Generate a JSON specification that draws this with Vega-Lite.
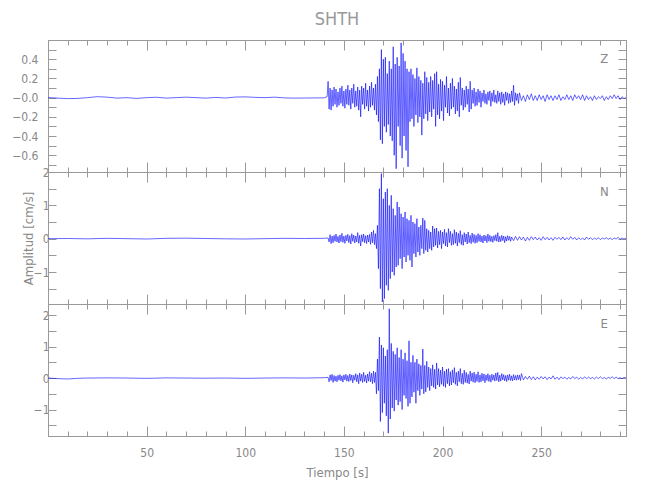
{
  "$schema": "https://vega.github.io/schema/vega-lite/v6.json",
  "padding": {"left": 11, "top": 11, "right": 24, "bottom": 5},
  "title": {"text": "SHTH", "color": "#999999", "fontSize": 18, "fontWeight": "normal", "font": "Liberation Sans Narrow, DejaVu Sans Condensed, Roboto, sans-serif", "offset": 10, "anchor": "middle", "frame": "group"},
  "spacing": 0,
  "bounds": "flush",
  "config": {
    "view": {"stroke": "#999999", "strokeWidth": 1},
    "axis": {"grid": false, "domainColor": "#999999", "tickColor": "#999999", "labelColor": "#888888", "titleColor": "#888888", "labelFont": "Liberation Sans Narrow, DejaVu Sans Condensed, Roboto, sans-serif", "titleFont": "Liberation Sans Narrow, DejaVu Sans Condensed, Roboto, sans-serif", "labelFontSize": 12, "titleFontSize": 13, "titleFontWeight": "normal", "labelOverlap": false, "labelFlush": false}
  },
  "datasets": {
    "Z": [
      {"t":0,"v":0},{"t":5,"v":-0.005},{"t":10,"v":-0.01},{"t":15,"v":-0.008},{"t":20,"v":0},{"t":25,"v":0.01},{"t":30,"v":0.005},{"t":35,"v":-0.005},{"t":40,"v":0},{"t":45,"v":-0.008},{"t":50,"v":0},{"t":55,"v":0.004},{"t":60,"v":-0.005},{"t":65,"v":0},{"t":70,"v":0.005},{"t":75,"v":0},{"t":80,"v":-0.005},{"t":85,"v":0.002},{"t":90,"v":-0.004},{"t":95,"v":0.006},{"t":100,"v":0.008},{"t":105,"v":0.003},{"t":110,"v":0},{"t":115,"v":0.005},{"t":120,"v":-0.003},{"t":125,"v":-0.005},{"t":130,"v":-0.004},{"t":135,"v":-0.003},{"t":140,"v":-0.002},{"t":141.5,"v":0.01},
      {"t":142,"v":0.17},{"t":142.5,"v":-0.12},{"t":143,"v":0.1},{"t":143.5,"v":-0.13},{"t":144,"v":0.08},{"t":144.5,"v":-0.09},{"t":145,"v":0.11},{"t":145.5,"v":-0.07},{"t":146,"v":0.09},{"t":146.5,"v":-0.1},{"t":147,"v":0.06},{"t":147.5,"v":-0.08},{"t":148,"v":0.1},{"t":148.5,"v":-0.06},{"t":149,"v":0.12},{"t":149.5,"v":-0.09},{"t":150,"v":0.07},{"t":150.5,"v":-0.11},{"t":151,"v":0.09},{"t":151.5,"v":-0.07},{"t":152,"v":0.13},{"t":152.5,"v":-0.08},{"t":153,"v":0.08},{"t":153.5,"v":-0.12},{"t":154,"v":0.1},{"t":154.5,"v":-0.06},{"t":155,"v":0.14},{"t":155.5,"v":-0.1},{"t":156,"v":0.07},{"t":156.5,"v":-0.09},{"t":157,"v":0.11},{"t":157.5,"v":-0.13},{"t":158,"v":0.08},{"t":158.5,"v":-0.2},{"t":159,"v":0.12},{"t":159.5,"v":-0.07},{"t":160,"v":0.1},{"t":160.5,"v":-0.12},{"t":161,"v":0.15},{"t":161.5,"v":-0.09},{"t":162,"v":0.08},{"t":162.5,"v":-0.14},{"t":163,"v":0.12},{"t":163.5,"v":-0.1},{"t":164,"v":0.16},{"t":164.5,"v":-0.08},{"t":165,"v":0.1},{"t":165.5,"v":-0.13},{"t":166,"v":0.14},{"t":166.5,"v":-0.18},{"t":167,"v":0.22},{"t":167.5,"v":-0.25},{"t":168,"v":0.3},{"t":168.5,"v":-0.44},{"t":169,"v":0.5},{"t":169.5,"v":-0.48},{"t":170,"v":0.4},{"t":170.5,"v":-0.3},{"t":171,"v":0.42},{"t":171.5,"v":-0.36},{"t":172,"v":0.25},{"t":172.5,"v":-0.28},{"t":173,"v":0.38},{"t":173.5,"v":-0.4},{"t":174,"v":0.3},{"t":174.5,"v":-0.45},{"t":175,"v":0.53},{"t":175.5,"v":-0.6},{"t":176,"v":0.35},{"t":176.5,"v":-0.74},{"t":177,"v":0.42},{"t":177.5,"v":-0.3},{"t":178,"v":0.33},{"t":178.5,"v":-0.5},{"t":179,"v":0.57},{"t":179.5,"v":-0.63},{"t":180,"v":0.46},{"t":180.5,"v":-0.4},{"t":181,"v":0.38},{"t":181.5,"v":-0.55},{"t":182,"v":0.3},{"t":182.5,"v":-0.72},{"t":183,"v":0.27},{"t":183.5,"v":-0.25},{"t":184,"v":0.3},{"t":184.5,"v":-0.22},{"t":185,"v":0.24},{"t":185.5,"v":-0.3},{"t":186,"v":0.2},{"t":186.5,"v":-0.18},{"t":187,"v":0.31},{"t":187.5,"v":-0.26},{"t":188,"v":0.22},{"t":188.5,"v":-0.2},{"t":189,"v":0.18},{"t":189.5,"v":-0.39},{"t":190,"v":0.15},{"t":190.5,"v":-0.22},{"t":191,"v":0.27},{"t":191.5,"v":-0.17},{"t":192,"v":0.21},{"t":192.5,"v":-0.24},{"t":193,"v":0.16},{"t":193.5,"v":-0.15},{"t":194,"v":0.22},{"t":194.5,"v":-0.2},{"t":195,"v":0.18},{"t":195.5,"v":-0.12},{"t":196,"v":0.25},{"t":196.5,"v":-0.3},{"t":197,"v":0.27},{"t":197.5,"v":-0.18},{"t":198,"v":0.14},{"t":198.5,"v":-0.22},{"t":199,"v":0.19},{"t":199.5,"v":-0.14},{"t":200,"v":0.17},{"t":200.5,"v":-0.24},{"t":201,"v":0.13},{"t":201.5,"v":-0.1},{"t":202,"v":0.22},{"t":202.5,"v":-0.16},{"t":203,"v":0.1},{"t":203.5,"v":-0.19},{"t":204,"v":0.15},{"t":204.5,"v":-0.12},{"t":205,"v":0.2},{"t":205.5,"v":-0.1},{"t":206,"v":0.12},{"t":206.5,"v":-0.17},{"t":207,"v":0.09},{"t":207.5,"v":-0.14},{"t":208,"v":0.16},{"t":208.5,"v":-0.2},{"t":209,"v":0.21},{"t":209.5,"v":-0.08},{"t":210,"v":0.1},{"t":210.5,"v":-0.13},{"t":211,"v":0.08},{"t":211.5,"v":-0.1},{"t":212,"v":0.12},{"t":212.5,"v":-0.07},{"t":213,"v":0.09},{"t":213.5,"v":-0.15},{"t":214,"v":0.17},{"t":214.5,"v":-0.12},{"t":215,"v":0.08},{"t":215.5,"v":-0.06},{"t":216,"v":0.1},{"t":216.5,"v":-0.09},{"t":217,"v":0.06},{"t":217.5,"v":-0.08},{"t":218,"v":0.09},{"t":218.5,"v":-0.05},{"t":219,"v":0.07},{"t":219.5,"v":-0.1},{"t":220,"v":0.05},{"t":220.5,"v":-0.04},{"t":221,"v":0.08},{"t":221.5,"v":-0.06},{"t":222,"v":0.04},{"t":222.5,"v":-0.07},{"t":223,"v":0.06},{"t":223.5,"v":-0.03},{"t":224,"v":0.07},{"t":224.5,"v":-0.09},{"t":225,"v":0.05},{"t":225.5,"v":-0.04},{"t":226,"v":0.08},{"t":226.5,"v":-0.05},{"t":227,"v":0.03},{"t":227.5,"v":-0.06},{"t":228,"v":0.07},{"t":228.5,"v":-0.04},{"t":229,"v":0.05},{"t":229.5,"v":-0.07},{"t":230,"v":0.06},{"t":230.5,"v":-0.05},{"t":231,"v":0.04},{"t":231.5,"v":-0.08},{"t":232,"v":0.06},{"t":232.5,"v":-0.03},{"t":233,"v":0.05},{"t":233.5,"v":-0.06},{"t":234,"v":0.04},{"t":234.5,"v":-0.05},{"t":235,"v":0.07},{"t":235.5,"v":-0.04},{"t":236,"v":0.13},{"t":236.5,"v":-0.08},{"t":237,"v":0.05},{"t":237.5,"v":-0.03},{"t":238,"v":0.04},{"t":238.5,"v":-0.06},{"t":239,"v":0.05},
      {"t":240,"v":-0.03},{"t":241,"v":0.02},{"t":242,"v":-0.04},{"t":243,"v":0.03},{"t":244,"v":-0.02},{"t":245,"v":0.04},{"t":246,"v":-0.03},{"t":247,"v":0.02},{"t":248,"v":-0.03},{"t":249,"v":0.03},{"t":250,"v":-0.02},{"t":251,"v":0.02},{"t":252,"v":-0.04},{"t":253,"v":0.03},{"t":254,"v":-0.02},{"t":255,"v":0.02},{"t":256,"v":-0.03},{"t":257,"v":0.02},{"t":258,"v":-0.02},{"t":259,"v":0.03},{"t":260,"v":-0.03},{"t":261,"v":0.01},{"t":262,"v":-0.02},{"t":263,"v":0.03},{"t":264,"v":-0.02},{"t":265,"v":0.02},{"t":266,"v":-0.03},{"t":267,"v":0.03},{"t":268,"v":-0.01},{"t":269,"v":0.02},{"t":270,"v":-0.02},{"t":271,"v":0.03},{"t":272,"v":-0.03},{"t":273,"v":0.02},{"t":274,"v":-0.02},{"t":275,"v":0.01},{"t":276,"v":-0.03},{"t":277,"v":0.02},{"t":278,"v":-0.02},{"t":279,"v":0.01},{"t":280,"v":-0.01},{"t":281,"v":0.02},{"t":282,"v":-0.03},{"t":283,"v":0.01},{"t":284,"v":-0.02},{"t":285,"v":0.02},{"t":286,"v":-0.01},{"t":287,"v":0.03},{"t":288,"v":-0.01},{"t":289,"v":0.02},{"t":290,"v":-0.02},{"t":291,"v":0.01},{"t":292,"v":-0.01},{"t":293,"v":0}
    ],
    "N": [
      {"t":0,"v":0},{"t":10,"v":0.005},{"t":20,"v":-0.005},{"t":30,"v":0.01},{"t":40,"v":0},{"t":50,"v":-0.01},{"t":60,"v":0.01},{"t":70,"v":0.015},{"t":80,"v":0.005},{"t":90,"v":-0.005},{"t":100,"v":-0.01},{"t":110,"v":0},{"t":120,"v":0.01},{"t":130,"v":0.005},{"t":140,"v":0.01},{"t":142,"v":0.02},
      {"t":142.5,"v":-0.1},{"t":143,"v":0.12},{"t":143.5,"v":-0.15},{"t":144,"v":0.08},{"t":144.5,"v":-0.12},{"t":145,"v":0.1},{"t":145.5,"v":-0.08},{"t":146,"v":0.14},{"t":146.5,"v":-0.1},{"t":147,"v":0.07},{"t":147.5,"v":-0.13},{"t":148,"v":0.11},{"t":148.5,"v":-0.09},{"t":149,"v":0.16},{"t":149.5,"v":-0.11},{"t":150,"v":0.08},{"t":150.5,"v":-0.14},{"t":151,"v":0.1},{"t":151.5,"v":-0.07},{"t":152,"v":0.13},{"t":152.5,"v":-0.12},{"t":153,"v":0.09},{"t":153.5,"v":-0.16},{"t":154,"v":0.15},{"t":154.5,"v":-0.08},{"t":155,"v":0.11},{"t":155.5,"v":-0.13},{"t":156,"v":0.08},{"t":156.5,"v":-0.1},{"t":157,"v":0.18},{"t":157.5,"v":-0.14},{"t":158,"v":0.1},{"t":158.5,"v":-0.22},{"t":159,"v":0.12},{"t":159.5,"v":-0.09},{"t":160,"v":0.14},{"t":160.5,"v":-0.12},{"t":161,"v":0.09},{"t":161.5,"v":-0.15},{"t":162,"v":0.11},{"t":162.5,"v":-0.1},{"t":163,"v":0.13},{"t":163.5,"v":-0.17},{"t":164,"v":0.2},{"t":164.5,"v":-0.12},{"t":165,"v":0.25},{"t":165.5,"v":-0.18},{"t":166,"v":0.15},{"t":166.5,"v":-0.3},{"t":167,"v":0.4},{"t":167.5,"v":-0.9},{"t":168,"v":1.5},{"t":168.5,"v":-1.5},{"t":169,"v":1.95},{"t":169.5,"v":-1.9},{"t":170,"v":1.2},{"t":170.5,"v":-1.8},{"t":171,"v":1.4},{"t":171.5,"v":-1.4},{"t":172,"v":1.5},{"t":172.5,"v":-1.55},{"t":173,"v":1},{"t":173.5,"v":-1.2},{"t":174,"v":1.3},{"t":174.5,"v":-1},{"t":175,"v":0.9},{"t":175.5,"v":-1.1},{"t":176,"v":0.7},{"t":176.5,"v":-0.85},{"t":177,"v":1.1},{"t":177.5,"v":-0.8},{"t":178,"v":0.95},{"t":178.5,"v":-0.6},{"t":179,"v":0.75},{"t":179.5,"v":-0.9},{"t":180,"v":0.65},{"t":180.5,"v":-0.55},{"t":181,"v":0.8},{"t":181.5,"v":-0.7},{"t":182,"v":0.6},{"t":182.5,"v":-0.5},{"t":183,"v":0.55},{"t":183.5,"v":-0.65},{"t":184,"v":0.7},{"t":184.5,"v":-0.85},{"t":185,"v":0.5},{"t":185.5,"v":-0.45},{"t":186,"v":0.45},{"t":186.5,"v":-0.55},{"t":187,"v":0.6},{"t":187.5,"v":-0.4},{"t":188,"v":0.35},{"t":188.5,"v":-0.5},{"t":189,"v":0.4},{"t":189.5,"v":-0.3},{"t":190,"v":0.62},{"t":190.5,"v":-0.45},{"t":191,"v":0.55},{"t":191.5,"v":-0.35},{"t":192,"v":0.3},{"t":192.5,"v":-0.4},{"t":193,"v":0.25},{"t":193.5,"v":-0.3},{"t":194,"v":0.2},{"t":194.5,"v":-0.35},{"t":195,"v":0.38},{"t":195.5,"v":-0.25},{"t":196,"v":0.3},{"t":196.5,"v":-0.2},{"t":197,"v":0.32},{"t":197.5,"v":-0.28},{"t":198,"v":0.22},{"t":198.5,"v":-0.18},{"t":199,"v":0.25},{"t":199.5,"v":-0.3},{"t":200,"v":0.2},{"t":200.5,"v":-0.15},{"t":201,"v":0.28},{"t":201.5,"v":-0.22},{"t":202,"v":0.18},{"t":202.5,"v":-0.25},{"t":203,"v":0.3},{"t":203.5,"v":-0.12},{"t":204,"v":0.22},{"t":204.5,"v":-0.2},{"t":205,"v":0.15},{"t":205.5,"v":-0.18},{"t":206,"v":0.27},{"t":206.5,"v":-0.14},{"t":207,"v":0.2},{"t":207.5,"v":-0.22},{"t":208,"v":0.16},{"t":208.5,"v":-0.12},{"t":209,"v":0.24},{"t":209.5,"v":-0.18},{"t":210,"v":0.12},{"t":210.5,"v":-0.2},{"t":211,"v":0.18},{"t":211.5,"v":-0.1},{"t":212,"v":0.14},{"t":212.5,"v":-0.16},{"t":213,"v":0.2},{"t":213.5,"v":-0.12},{"t":214,"v":0.1},{"t":214.5,"v":-0.15},{"t":215,"v":0.17},{"t":215.5,"v":-0.11},{"t":216,"v":0.13},{"t":216.5,"v":-0.14},{"t":217,"v":0.1},{"t":217.5,"v":-0.12},{"t":218,"v":0.15},{"t":218.5,"v":-0.08},{"t":219,"v":0.12},{"t":219.5,"v":-0.1},{"t":220,"v":0.08},{"t":220.5,"v":-0.13},{"t":221,"v":0.11},{"t":221.5,"v":-0.07},{"t":222,"v":0.09},{"t":222.5,"v":-0.12},{"t":223,"v":0.14},{"t":223.5,"v":-0.08},{"t":224,"v":0.1},{"t":224.5,"v":-0.09},{"t":225,"v":0.07},{"t":225.5,"v":-0.11},{"t":226,"v":0.09},{"t":226.5,"v":-0.06},{"t":227,"v":0.12},{"t":227.5,"v":-0.08},{"t":228,"v":0.18},{"t":228.5,"v":-0.1},{"t":229,"v":0.07},{"t":229.5,"v":-0.09},{"t":230,"v":0.1},{"t":230.5,"v":-0.06},{"t":231,"v":0.08},{"t":231.5,"v":-0.12},{"t":232,"v":0.06},{"t":232.5,"v":-0.07},{"t":233,"v":0.09},{"t":233.5,"v":-0.05},{"t":234,"v":0.07},{"t":234.5,"v":-0.08},{"t":235,"v":0.05},
      {"t":236,"v":-0.06},{"t":237,"v":0.07},{"t":238,"v":-0.05},{"t":239,"v":0.06},{"t":240,"v":-0.04},{"t":241,"v":0.05},{"t":242,"v":-0.07},{"t":243,"v":0.04},{"t":244,"v":-0.05},{"t":245,"v":0.06},{"t":246,"v":-0.03},{"t":247,"v":0.05},{"t":248,"v":-0.04},{"t":249,"v":0.03},{"t":250,"v":-0.05},{"t":251,"v":0.06},{"t":252,"v":-0.03},{"t":253,"v":0.04},{"t":254,"v":-0.04},{"t":255,"v":0.03},{"t":256,"v":-0.05},{"t":257,"v":0.04},{"t":258,"v":-0.02},{"t":259,"v":0.04},{"t":260,"v":-0.03},{"t":261,"v":0.05},{"t":262,"v":-0.04},{"t":263,"v":0.03},{"t":264,"v":-0.03},{"t":265,"v":0.06},{"t":266,"v":-0.02},{"t":267,"v":0.04},{"t":268,"v":-0.04},{"t":269,"v":0.03},{"t":270,"v":-0.03},{"t":271,"v":0.02},{"t":272,"v":-0.04},{"t":273,"v":0.05},{"t":274,"v":-0.02},{"t":275,"v":0.03},{"t":276,"v":-0.03},{"t":277,"v":0.02},{"t":278,"v":-0.02},{"t":279,"v":0.03},{"t":280,"v":-0.03},{"t":281,"v":0.02},{"t":282,"v":-0.01},{"t":283,"v":0.03},{"t":284,"v":-0.02},{"t":285,"v":0.02},{"t":286,"v":-0.03},{"t":287,"v":0.02},{"t":288,"v":-0.01},{"t":289,"v":0.04},{"t":290,"v":-0.02},{"t":291,"v":0.02},{"t":292,"v":-0.01},{"t":293,"v":0.01}
    ],
    "E": [
      {"t":0,"v":0},{"t":5,"v":-0.02},{"t":10,"v":-0.03},{"t":15,"v":-0.01},{"t":20,"v":0},{"t":30,"v":0.005},{"t":40,"v":0},{"t":50,"v":-0.01},{"t":60,"v":0.005},{"t":70,"v":0},{"t":80,"v":-0.005},{"t":90,"v":0},{"t":100,"v":-0.01},{"t":110,"v":0},{"t":120,"v":0.005},{"t":130,"v":0},{"t":140,"v":0.01},{"t":142,"v":0.02},
      {"t":142.5,"v":-0.12},{"t":143,"v":0.1},{"t":143.5,"v":-0.08},{"t":144,"v":0.12},{"t":144.5,"v":-0.14},{"t":145,"v":0.08},{"t":145.5,"v":-0.1},{"t":146,"v":0.06},{"t":146.5,"v":-0.12},{"t":147,"v":0.09},{"t":147.5,"v":-0.07},{"t":148,"v":0.11},{"t":148.5,"v":-0.09},{"t":149,"v":0.07},{"t":149.5,"v":-0.13},{"t":150,"v":0.1},{"t":150.5,"v":-0.06},{"t":151,"v":0.12},{"t":151.5,"v":-0.1},{"t":152,"v":0.08},{"t":152.5,"v":-0.11},{"t":153,"v":0.13},{"t":153.5,"v":-0.08},{"t":154,"v":0.1},{"t":154.5,"v":-0.15},{"t":155,"v":0.09},{"t":155.5,"v":-0.07},{"t":156,"v":0.14},{"t":156.5,"v":-0.12},{"t":157,"v":0.1},{"t":157.5,"v":-0.18},{"t":158,"v":0.16},{"t":158.5,"v":-0.1},{"t":159,"v":0.12},{"t":159.5,"v":-0.14},{"t":160,"v":0.18},{"t":160.5,"v":-0.11},{"t":161,"v":0.09},{"t":161.5,"v":-0.16},{"t":162,"v":0.13},{"t":162.5,"v":-0.1},{"t":163,"v":0.2},{"t":163.5,"v":-0.12},{"t":164,"v":0.15},{"t":164.5,"v":-0.18},{"t":165,"v":0.22},{"t":165.5,"v":-0.14},{"t":166,"v":0.18},{"t":166.5,"v":-0.5},{"t":167,"v":0.6},{"t":167.5,"v":-0.4},{"t":168,"v":1.3},{"t":168.5,"v":-1.38},{"t":169,"v":1.05},{"t":169.5,"v":-1.1},{"t":170,"v":0.96},{"t":170.5,"v":-0.8},{"t":171,"v":0.7},{"t":171.5,"v":-1.2},{"t":172,"v":0.9},{"t":172.5,"v":-1.75},{"t":173,"v":2.2},{"t":173.5,"v":-1.3},{"t":174,"v":1.1},{"t":174.5,"v":-0.95},{"t":175,"v":0.85},{"t":175.5,"v":-1.05},{"t":176,"v":0.75},{"t":176.5,"v":-0.7},{"t":177,"v":0.96},{"t":177.5,"v":-0.86},{"t":178,"v":0.65},{"t":178.5,"v":-0.75},{"t":179,"v":0.9},{"t":179.5,"v":-1},{"t":180,"v":0.6},{"t":180.5,"v":-0.55},{"t":181,"v":0.8},{"t":181.5,"v":-0.65},{"t":182,"v":0.55},{"t":182.5,"v":-0.9},{"t":183,"v":1.18},{"t":183.5,"v":-0.8},{"t":184,"v":0.5},{"t":184.5,"v":-0.6},{"t":185,"v":0.72},{"t":185.5,"v":-0.45},{"t":186,"v":0.5},{"t":186.5,"v":-0.8},{"t":187,"v":0.6},{"t":187.5,"v":-0.4},{"t":188,"v":0.45},{"t":188.5,"v":-0.55},{"t":189,"v":0.4},{"t":189.5,"v":-0.35},{"t":190,"v":0.92},{"t":190.5,"v":-0.5},{"t":191,"v":0.4},{"t":191.5,"v":-0.44},{"t":192,"v":0.53},{"t":192.5,"v":-0.3},{"t":193,"v":0.35},{"t":193.5,"v":-0.4},{"t":194,"v":0.3},{"t":194.5,"v":-0.25},{"t":195,"v":0.42},{"t":195.5,"v":-0.3},{"t":196,"v":0.28},{"t":196.5,"v":-0.35},{"t":197,"v":0.48},{"t":197.5,"v":-0.22},{"t":198,"v":0.3},{"t":198.5,"v":-0.28},{"t":199,"v":0.25},{"t":199.5,"v":-0.2},{"t":200,"v":0.35},{"t":200.5,"v":-0.26},{"t":201,"v":0.22},{"t":201.5,"v":-0.3},{"t":202,"v":0.28},{"t":202.5,"v":-0.18},{"t":203,"v":0.3},{"t":203.5,"v":-0.25},{"t":204,"v":0.2},{"t":204.5,"v":-0.22},{"t":205,"v":0.26},{"t":205.5,"v":-0.15},{"t":206,"v":0.33},{"t":206.5,"v":-0.2},{"t":207,"v":0.18},{"t":207.5,"v":-0.25},{"t":208,"v":0.22},{"t":208.5,"v":-0.12},{"t":209,"v":0.3},{"t":209.5,"v":-0.18},{"t":210,"v":0.15},{"t":210.5,"v":-0.2},{"t":211,"v":0.25},{"t":211.5,"v":-0.14},{"t":212,"v":0.18},{"t":212.5,"v":-0.16},{"t":213,"v":0.12},{"t":213.5,"v":-0.19},{"t":214,"v":0.22},{"t":214.5,"v":-0.1},{"t":215,"v":0.16},{"t":215.5,"v":-0.13},{"t":216,"v":0.19},{"t":216.5,"v":-0.15},{"t":217,"v":0.12},{"t":217.5,"v":-0.11},{"t":218,"v":0.2},{"t":218.5,"v":-0.14},{"t":219,"v":0.1},{"t":219.5,"v":-0.12},{"t":220,"v":0.15},{"t":220.5,"v":-0.09},{"t":221,"v":0.13},{"t":221.5,"v":-0.15},{"t":222,"v":0.1},{"t":222.5,"v":-0.08},{"t":223,"v":0.14},{"t":223.5,"v":-0.11},{"t":224,"v":0.09},{"t":224.5,"v":-0.13},{"t":225,"v":0.12},{"t":225.5,"v":-0.07},{"t":226,"v":0.1},{"t":226.5,"v":-0.1},{"t":227,"v":0.16},{"t":227.5,"v":-0.08},{"t":228,"v":0.18},{"t":228.5,"v":-0.12},{"t":229,"v":0.09},{"t":229.5,"v":-0.1},{"t":230,"v":0.14},{"t":230.5,"v":-0.06},{"t":231,"v":0.11},{"t":231.5,"v":-0.09},{"t":232,"v":0.08},{"t":232.5,"v":-0.11},{"t":233,"v":0.1},{"t":233.5,"v":-0.07},{"t":234,"v":0.12},{"t":234.5,"v":-0.08},{"t":235,"v":0.07},{"t":235.5,"v":-0.09},{"t":236,"v":0.11},{"t":236.5,"v":-0.06},{"t":237,"v":0.08},{"t":237.5,"v":-0.07},{"t":238,"v":0.1},{"t":238.5,"v":-0.05},{"t":239,"v":0.09},{"t":239.5,"v":-0.08},{"t":240,"v":0.14},
      {"t":241,"v":-0.06},{"t":242,"v":0.05},{"t":243,"v":-0.04},{"t":244,"v":0.06},{"t":245,"v":-0.05},{"t":246,"v":0.04},{"t":247,"v":-0.06},{"t":248,"v":0.03},{"t":249,"v":-0.04},{"t":250,"v":0.05},{"t":251,"v":-0.03},{"t":252,"v":0.04},{"t":253,"v":-0.05},{"t":254,"v":0.03},{"t":255,"v":-0.03},{"t":256,"v":0.07},{"t":257,"v":-0.04},{"t":258,"v":0.03},{"t":259,"v":-0.05},{"t":260,"v":0.04},{"t":261,"v":-0.02},{"t":262,"v":0.03},{"t":263,"v":-0.04},{"t":264,"v":0.02},{"t":265,"v":-0.03},{"t":266,"v":0.05},{"t":267,"v":-0.02},{"t":268,"v":0.03},{"t":269,"v":-0.04},{"t":270,"v":0.02},{"t":271,"v":-0.03},{"t":272,"v":0.04},{"t":273,"v":-0.02},{"t":274,"v":0.03},{"t":275,"v":-0.02},{"t":276,"v":0.02},{"t":277,"v":-0.03},{"t":278,"v":0.03},{"t":279,"v":-0.02},{"t":280,"v":0.04},{"t":281,"v":-0.02},{"t":282,"v":0.02},{"t":283,"v":-0.03},{"t":284,"v":0.02},{"t":285,"v":-0.01},{"t":286,"v":0.04},{"t":287,"v":-0.02},{"t":288,"v":0.03},{"t":289,"v":-0.02},{"t":290,"v":0.01},{"t":291,"v":-0.02},{"t":292,"v":0.02},{"t":293,"v":0}
    ]
  },
  "vconcat": [
    {
      "width": 578, "height": 132,
      "data": {"name": "Z"},
      "layer": [
        {
          "mark": {"type": "line", "color": "#0000ff", "strokeWidth": 0.6},
          "encoding": {
            "x": {"field": "t", "type": "quantitative", "scale": {"domain": [0, 293], "nice": false, "zero": false},
                  "axis": {"orient": "bottom", "values": [10,20,30,40,50,60,70,80,90,100,110,120,130,140,150,160,170,180,190,200,210,220,230,240,250,260,270,280,290], "labels": false, "title": null, "tickSize": {"condition": {"test": "datum.value % 50 === 0", "value": -10}, "value": -5}}},
            "y": {"field": "v", "type": "quantitative", "scale": {"domain": [-0.774, 0.6], "nice": false, "zero": false},
                  "axis": {"orient": "left", "values": [-0.7,-0.6,-0.5,-0.4,-0.3,-0.2,-0.1,0,0.1,0.2,0.3,0.4,0.5], "labelExpr": "abs(round(datum.value*10)) % 2 == 0 ? (datum.value == 0 ? '−0.0' : format(datum.value, '.1f')) : ''", "tickSize": -8, "labelPadding": 18, "title": null}}
          }
        },
        {
          "mark": {"type": "line", "strokeOpacity": 0},
          "encoding": {
            "x": {"field": "t", "type": "quantitative", "axis": {"orient": "top", "values": [10,20,30,40,50,60,70,80,90,100,110,120,130,140,150,160,170,180,190,200,210,220,230,240,250,260,270,280,290], "labels": false, "title": null, "tickSize": {"condition": {"test": "datum.value % 50 === 0", "value": -10}, "value": -5}}},
            "y": {"field": "v", "type": "quantitative", "axis": {"orient": "right", "values": [-0.7,-0.6,-0.5,-0.4,-0.3,-0.2,-0.1,0,0.1,0.2,0.3,0.4,0.5], "labels": false, "title": null, "tickSize": -8}}
          }
        },
        {
          "data": {"values": [{"t": 282, "v": 0.4, "lab": "Z"}]},
          "mark": {"type": "text", "color": "#888888", "fontSize": 13, "font": "Liberation Sans Narrow, DejaVu Sans Condensed, Roboto, sans-serif"},
          "encoding": {"x": {"field": "t", "type": "quantitative", "axis": null}, "y": {"field": "v", "type": "quantitative", "axis": null}, "text": {"field": "lab"}}
        }
      ],
      "resolve": {"axis": {"x": "independent", "y": "independent"}}
    },
    {
      "width": 578, "height": 132,
      "data": {"name": "N"},
      "layer": [
        {
          "mark": {"type": "line", "color": "#0000ff", "strokeWidth": 0.6},
          "encoding": {
            "x": {"field": "t", "type": "quantitative", "scale": {"domain": [0, 293], "nice": false, "zero": false},
                  "axis": {"orient": "bottom", "values": [10,20,30,40,50,60,70,80,90,100,110,120,130,140,150,160,170,180,190,200,210,220,230,240,250,260,270,280,290], "labels": false, "title": null, "tickSize": {"condition": {"test": "datum.value % 50 === 0", "value": -10}, "value": -5}}},
            "y": {"field": "v", "type": "quantitative", "scale": {"domain": [-1.96, 2.0], "nice": false, "zero": false},
                  "axis": {"orient": "left", "values": [-1.5,-1,-0.5,0,0.5,1,1.5,2], "labelExpr": "datum.value % 1 == 0 ? format(datum.value, 'd') : ''", "tickSize": -8, "labelPadding": 7, "title": "Amplitud [cm/s]", "titlePadding": -2}}
          }
        },
        {
          "mark": {"type": "line", "strokeOpacity": 0},
          "encoding": {
            "x": {"field": "t", "type": "quantitative", "axis": {"orient": "top", "values": [10,20,30,40,50,60,70,80,90,100,110,120,130,140,150,160,170,180,190,200,210,220,230,240,250,260,270,280,290], "labels": false, "title": null, "tickSize": {"condition": {"test": "datum.value % 50 === 0", "value": -10}, "value": -5}}},
            "y": {"field": "v", "type": "quantitative", "axis": {"orient": "right", "values": [-1.5,-1,-0.5,0,0.5,1,1.5,2], "labels": false, "title": null, "tickSize": -8}}
          }
        },
        {
          "data": {"values": [{"t": 282, "v": 1.4, "lab": "N"}]},
          "mark": {"type": "text", "color": "#888888", "fontSize": 13, "font": "Liberation Sans Narrow, DejaVu Sans Condensed, Roboto, sans-serif"},
          "encoding": {"x": {"field": "t", "type": "quantitative", "axis": null}, "y": {"field": "v", "type": "quantitative", "axis": null}, "text": {"field": "lab"}}
        }
      ],
      "resolve": {"axis": {"x": "independent", "y": "independent"}}
    },
    {
      "width": 578, "height": 132,
      "data": {"name": "E"},
      "layer": [
        {
          "mark": {"type": "line", "color": "#0000ff", "strokeWidth": 0.6},
          "encoding": {
            "x": {"field": "t", "type": "quantitative", "scale": {"domain": [0, 293], "nice": false, "zero": false},
                  "axis": {"orient": "bottom", "values": [10,20,30,40,50,60,70,80,90,100,110,120,130,140,150,160,170,180,190,200,210,220,230,240,250,260,270,280,290], "labelExpr": "datum.value % 50 === 0 ? datum.label : ''", "title": "Tiempo [s]", "labelPadding": 21, "titlePadding": 3, "tickSize": {"condition": {"test": "datum.value % 50 === 0", "value": -10}, "value": -5}}},
            "y": {"field": "v", "type": "quantitative", "scale": {"domain": [-1.84, 2.35], "nice": false, "zero": false},
                  "axis": {"orient": "left", "values": [-1.5,-1,-0.5,0,0.5,1,1.5,2], "labelExpr": "datum.value % 1 == 0 ? format(datum.value, 'd') : ''", "tickSize": -8, "labelPadding": 7, "title": null}}
          }
        },
        {
          "mark": {"type": "line", "strokeOpacity": 0},
          "encoding": {
            "x": {"field": "t", "type": "quantitative", "axis": {"orient": "top", "values": [10,20,30,40,50,60,70,80,90,100,110,120,130,140,150,160,170,180,190,200,210,220,230,240,250,260,270,280,290], "labels": false, "title": null, "tickSize": {"condition": {"test": "datum.value % 50 === 0", "value": -10}, "value": -5}}},
            "y": {"field": "v", "type": "quantitative", "axis": {"orient": "right", "values": [-1.5,-1,-0.5,0,0.5,1,1.5,2], "labels": false, "title": null, "tickSize": -8}}
          }
        },
        {
          "data": {"values": [{"t": 282, "v": 1.7, "lab": "E"}]},
          "mark": {"type": "text", "color": "#888888", "fontSize": 13, "font": "Liberation Sans Narrow, DejaVu Sans Condensed, Roboto, sans-serif"},
          "encoding": {"x": {"field": "t", "type": "quantitative", "axis": null}, "y": {"field": "v", "type": "quantitative", "axis": null}, "text": {"field": "lab"}}
        }
      ],
      "resolve": {"axis": {"x": "independent", "y": "independent"}}
    }
  ]
}
